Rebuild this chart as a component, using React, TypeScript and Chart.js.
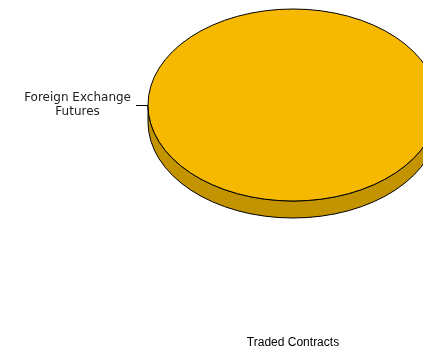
import React, { useEffect, useRef } from "react";
import { Chart, registerables } from "chart.js";

Chart.register(...registerables);

const categories: string[] = ["Foreign Exchange Futures"];
const categoryLines: string[][] = [["Foreign Exchange", "Futures"]];
const values: number[] = [100];
const titleText = "Traded Contracts";

const TOP_COLOR = "#F6B900";
const SIDE_COLOR = "#C39300";

// ellipse geometry
const CX = 293;
const CY = 105;
const RX = 145;
const RY = 96;
const DEPTH = 17;

const pie3d = {
  id: "pie3d",
  beforeDatasetsDraw(chart: any) {
    const meta = chart.getDatasetMeta(0);
    const arc = meta.data[0];
    if (!arc) return;
    const ctx = chart.ctx;
    const k = RY / arc.outerRadius;
    // side extrusion
    ctx.save();
    ctx.beginPath();
    ctx.moveTo(CX - RX, CY);
    ctx.lineTo(CX - RX, CY + DEPTH);
    ctx.ellipse(CX, CY + DEPTH, RX, RY, 0, Math.PI, 0, true);
    ctx.lineTo(CX + RX, CY);
    ctx.ellipse(CX, CY, RX, RY, 0, 0, Math.PI, false);
    ctx.closePath();
    ctx.fillStyle = SIDE_COLOR;
    ctx.fill();
    ctx.lineWidth = 1;
    ctx.strokeStyle = "#000";
    ctx.stroke();
    ctx.restore();
    // transform for the top face
    ctx.save();
    ctx.translate(CX, CY);
    ctx.scale(1, k);
    ctx.translate(-arc.x, -arc.y);
  },
  afterDatasetsDraw(chart: any) {
    const ctx = chart.ctx;
    ctx.restore();
    const meta = chart.getDatasetMeta(0);
    const arc = meta.data[0];
    if (!arc) return;
    // outline of top face
    ctx.save();
    ctx.beginPath();
    ctx.ellipse(CX, CY, RX, RY, 0, 0, Math.PI * 2);
    ctx.lineWidth = 1;
    ctx.strokeStyle = "#000";
    ctx.stroke();
    // leader line and label
    const ex = CX - RX;
    const ey = CY;
    ctx.beginPath();
    ctx.moveTo(ex - 12, ey + 0.5);
    ctx.lineTo(ex, ey + 0.5);
    ctx.stroke();
    ctx.font = "12px 'DejaVu Sans'";
    ctx.fillStyle = "#222";
    ctx.textAlign = "center";
    ctx.textBaseline = "middle";
    const lines = categoryLines[0];
    const w = Math.max(...lines.map((l) => ctx.measureText(l).width));
    const tx = ex - 17 - w / 2;
    const lh = 14;
    const startY = ey - 7 - ((lines.length - 1) * lh) / 2 + 7;
    lines.forEach((l, i) => ctx.fillText(l, tx, startY + i * lh));
    ctx.restore();
  },
};

export default function App() {
  const ref = useRef<HTMLCanvasElement | null>(null);
  useEffect(() => {
    if (!ref.current) return;
    const chart = new Chart(ref.current, {
      type: "pie",
      data: {
        labels: categories,
        datasets: [
          {
            data: values,
            backgroundColor: [TOP_COLOR],
            borderWidth: 0,
            clip: false as any,
          },
        ],
      },
      options: {
        animation: false,
        responsive: false,
        radius: RX,
        layout: { padding: { left: 163, right: 0, top: 0, bottom: 0 } },
        plugins: {
          legend: { display: false },
          tooltip: { enabled: false },
          title: {
            display: true,
            text: titleText,
            position: "bottom",
            color: "#000",
            font: { family: "'Liberation Sans', Arial", size: 12, weight: "normal" },
            padding: { top: 0, bottom: 3 },
          },
        },
      } as any,
      plugins: [pie3d],
    });
    return () => chart.destroy();
  }, []);
  return (
    <div style={{ position: "fixed", left: 0, top: 0, width: 423, height: 353, background: "#fff" }}>
      <canvas ref={ref} width={423} height={353} style={{ width: 423, height: 353 }} />
    </div>
  );
}
